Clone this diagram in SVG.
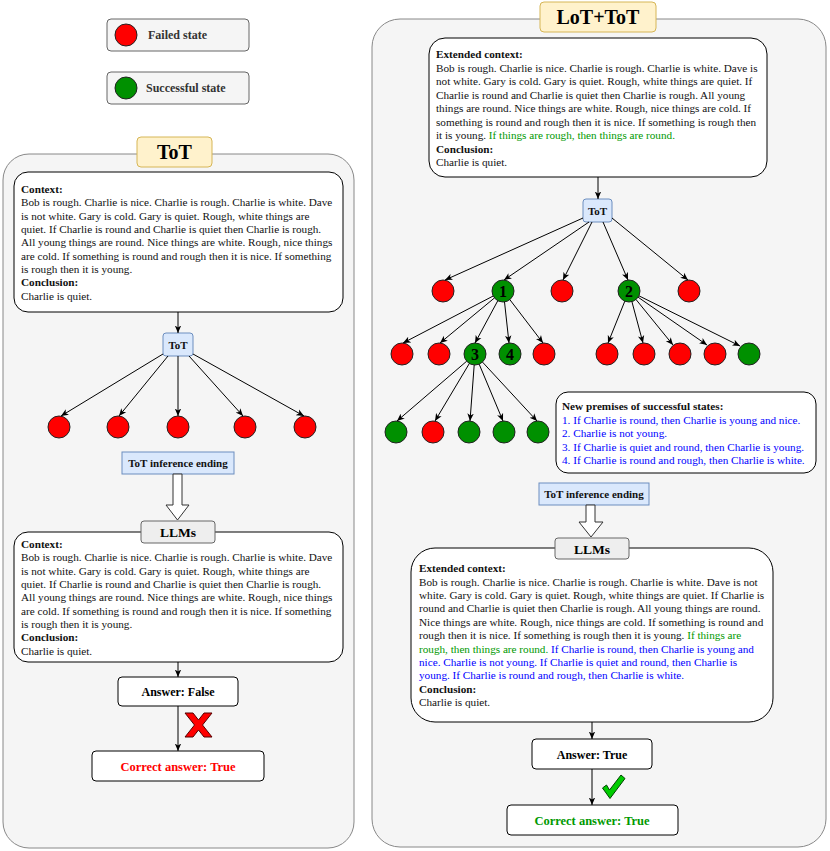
<svg xmlns="http://www.w3.org/2000/svg" width="830" height="851" viewBox="0 0 830 851">
<defs>
<marker id="arr" viewBox="0 0 8 8" refX="7.5" refY="4" markerWidth="8" markerHeight="8" markerUnits="userSpaceOnUse" orient="auto"><path d="M0,0.8 L7.5,4 L0,7.2 L2,4 z" fill="#000"/></marker>
</defs>
<style>
text{font-family:"Liberation Serif","Times New Roman",serif;fill:#111}
.b{font-weight:bold}
.body{font-size:11.2px}
.lg{font-size:12px;font-weight:bold;fill:#333}
.ttl{font-size:20px;font-weight:bold;fill:#000}
.lab{font-weight:bold;fill:#000}
.cont{fill:#f5f5f5;stroke:#888;stroke-width:1}
.ctx{fill:#fff;stroke:#000;stroke-width:1}
.title{fill:#fff2cc;stroke:#d6b656;stroke-width:1}
.bl{fill:#dae8fc;stroke:#6c8ebf;stroke-width:1}
.llm{fill:#eeeeee;stroke:#666;stroke-width:1}
.leg{fill:#f5f5f5;stroke:#666;stroke-width:1}
.rc{fill:#ff0000;stroke:#222;stroke-width:1}
.gc{fill:#009000;stroke:#222;stroke-width:1}
.edge{stroke:#000;stroke-width:1;fill:none;marker-end:url(#arr)}
.g{fill:#009900}
.u{fill:#0000ff}
.redt{fill:#ff0000}
.num{font-size:16px;font-weight:bold;fill:#000}
.hollow{fill:#fff;stroke:#333;stroke-width:1}
</style>
<rect width="830" height="851" fill="#fff"/>

<g id="legend">
<g id="legend-failed">
<rect class="leg" x="107" y="19" width="142" height="32" rx="4"/>
<circle class="rc" cx="126" cy="35" r="11"/>
<text class="lg" x="148" y="39">Failed state</text>
</g>
<g id="legend-success">
<rect class="leg" x="107" y="72" width="142" height="32" rx="4"/>
<circle class="gc" cx="126" cy="88" r="11"/>
<text class="lg" x="146" y="92">Successful state</text>
</g>
</g>

<g id="tot-panel">
<rect class="cont" x="3" y="154" width="351" height="694" rx="26"/>
<g id="tot-title">
<rect class="title" x="137" y="137" width="75" height="30" rx="4"/>
<text class="ttl" x="174.5" y="159" text-anchor="middle">ToT</text>
</g>
<g id="tot-context">
<rect class="ctx" x="14" y="172" width="329" height="140" rx="14"/>
<text class="body" x="21" y="193"><tspan class="b">Context:</tspan><tspan x="21" dy="13.33">Bob is rough. Charlie is nice. Charlie is rough. Charlie is white. Dave</tspan><tspan x="21" dy="13.33">is not white. Gary is cold. Gary is quiet. Rough, white things are</tspan><tspan x="21" dy="13.33">quiet. If Charlie is round and Charlie is quiet then Charlie is rough.</tspan><tspan x="21" dy="13.33">All young things are round. Nice things are white. Rough, nice things</tspan><tspan x="21" dy="13.33">are cold. If something is round and rough then it is nice. If something</tspan><tspan x="21" dy="13.33">is rough then it is young.</tspan><tspan x="21" dy="13.33" class="b">Conclusion:</tspan><tspan x="21" dy="13.33">Charlie is quiet.</tspan></text>
</g>
<g id="tot-node">
<rect class="bl" x="163" y="333" width="30" height="23" rx="3"/>
<text class="body b" x="178" y="349" text-anchor="middle" style="font-size:11px">ToT</text>
</g>
<g id="tot-states">
<circle class="rc" cx="59" cy="427" r="11"/>
<circle class="rc" cx="118" cy="427" r="11"/>
<circle class="rc" cx="178" cy="427" r="11"/>
<circle class="rc" cx="245" cy="427" r="11"/>
<circle class="rc" cx="305" cy="427" r="11"/>
</g>
<g id="tot-ending">
<rect class="bl" x="122" y="452" width="112" height="22"/>
<text class="body b" x="178" y="467" text-anchor="middle" style="font-size:11px">ToT inference ending</text>
</g>
<g id="tot-llms">
<rect class="ctx" x="14" y="532" width="329" height="130" rx="14"/>
<rect class="llm" x="141" y="521" width="74" height="22" rx="3"/>
<text class="lab" x="178" y="537" text-anchor="middle" font-size="13.5">LLMs</text>
<text class="body" x="21" y="548"><tspan class="b">Context:</tspan><tspan x="21" dy="13.33">Bob is rough. Charlie is nice. Charlie is rough. Charlie is white. Dave</tspan><tspan x="21" dy="13.33">is not white. Gary is cold. Gary is quiet. Rough, white things are</tspan><tspan x="21" dy="13.33">quiet. If Charlie is round and Charlie is quiet then Charlie is rough.</tspan><tspan x="21" dy="13.33">All young things are round. Nice things are white. Rough, nice things</tspan><tspan x="21" dy="13.33">are cold. If something is round and rough then it is nice. If something</tspan><tspan x="21" dy="13.33">is rough then it is young.</tspan><tspan x="21" dy="13.33" class="b">Conclusion:</tspan><tspan x="21" dy="13.33">Charlie is quiet.</tspan></text>
</g>
<g id="tot-answer">
<rect class="ctx" x="118" y="677" width="120" height="29" rx="4"/>
<text class="lab" x="178" y="696" text-anchor="middle" font-size="12">Answer: False</text>
</g>
<g id="tot-correct">
<rect class="ctx" x="92" y="751" width="172" height="30" rx="4"/>
<text class="lab redt" x="178" y="770.5" text-anchor="middle" font-size="12.5">Correct answer: True</text>
</g>
<g id="tot-cross">
<polygon points="185,713 193,713 198.5,720 204,713 212,713 202.5,725 212,737 204,737 198.5,730 193,737 185,737 194.5,725" fill="#ff0000" stroke="#550000" stroke-width="1"/>
</g>
</g>

<g id="lot-panel">
<rect class="cont" x="372" y="19" width="454" height="828" rx="28"/>
<g id="lot-title">
<rect class="title" x="540" y="2" width="116" height="30" rx="4"/>
<text class="ttl" x="598" y="24" text-anchor="middle">LoT+ToT</text>
</g>
<g id="lot-context">
<rect class="ctx" x="429" y="38" width="338" height="139" rx="16"/>
<text class="body" x="436" y="58"><tspan class="b">Extended context:</tspan><tspan x="436" dy="13.5">Bob is rough. Charlie is nice. Charlie is rough. Charlie is white. Dave is</tspan><tspan x="436" dy="13.5">not white. Gary is cold. Gary is quiet. Rough, white things are quiet. If</tspan><tspan x="436" dy="13.5">Charlie is round and Charlie is quiet then Charlie is rough. All young</tspan><tspan x="436" dy="13.5">things are round. Nice things are white. Rough, nice things are cold. If</tspan><tspan x="436" dy="13.5">something is round and rough then it is nice. If something is rough then</tspan><tspan x="436" dy="13.5">it is young. <tspan class="g">If things are rough, then things are round.</tspan></tspan><tspan x="436" dy="13.5" class="b">Conclusion:</tspan><tspan x="436" dy="13.5">Charlie is quiet.</tspan></text>
</g>
<g id="lot-tot-node">
<rect class="bl" x="583" y="199" width="29" height="23" rx="3"/>
<text class="body b" x="597.5" y="215" text-anchor="middle" style="font-size:11px">ToT</text>
</g>
<g id="lot-level1">
<circle class="rc" cx="443" cy="291" r="11"/>
<circle class="gc" cx="503" cy="291" r="11"/>
<text class="num" x="503" y="296.5" text-anchor="middle">1</text>
<circle class="rc" cx="562" cy="291" r="11"/>
<circle class="gc" cx="629" cy="291" r="11"/>
<text class="num" x="629" y="296.5" text-anchor="middle">2</text>
<circle class="rc" cx="689" cy="291" r="11"/>
</g>
<g id="lot-level2">
<circle class="rc" cx="402" cy="354" r="11"/>
<circle class="rc" cx="439" cy="354" r="11"/>
<circle class="gc" cx="475" cy="354" r="11"/>
<text class="num" x="475" y="359.5" text-anchor="middle">3</text>
<circle class="gc" cx="510" cy="354" r="11"/>
<text class="num" x="510" y="359.5" text-anchor="middle">4</text>
<circle class="rc" cx="544" cy="354" r="11"/>
<circle class="rc" cx="607" cy="354" r="11"/>
<circle class="rc" cx="644" cy="354" r="11"/>
<circle class="rc" cx="680" cy="354" r="11"/>
<circle class="rc" cx="715" cy="354" r="11"/>
<circle class="gc" cx="749" cy="354" r="11"/>
</g>
<g id="lot-level3">
<circle class="gc" cx="396" cy="432" r="11"/>
<circle class="rc" cx="433" cy="432" r="11"/>
<circle class="gc" cx="469" cy="432" r="11"/>
<circle class="gc" cx="504" cy="432" r="11"/>
<circle class="gc" cx="538" cy="432" r="11"/>
</g>
<g id="lot-premises">
<rect class="ctx" x="556" y="392" width="260" height="81" rx="12"/>
<text class="body" x="562" y="410"><tspan class="b">New premises of successful states:</tspan><tspan x="562" dy="13.5" class="u">1. If Charlie is round, then Charlie is young and nice.</tspan><tspan x="562" dy="13.5" class="u">2. Charlie is not young.</tspan><tspan x="562" dy="13.5" class="u">3. If Charlie is quiet and round, then Charlie is young.</tspan><tspan x="562" dy="13.5" class="u">4. If Charlie is round and rough, then Charlie is white.</tspan></text>
</g>
<g id="lot-ending">
<rect class="bl" x="539" y="483" width="110" height="22"/>
<text class="body b" x="594" y="498" text-anchor="middle" style="font-size:11px">ToT inference ending</text>
</g>
<g id="lot-llms">
<rect class="ctx" x="411" y="548" width="362" height="174" rx="24"/>
<rect class="llm" x="555" y="538" width="74" height="21" rx="3"/>
<text class="lab" x="592" y="553.5" text-anchor="middle" font-size="13.5">LLMs</text>
<text class="body" x="419" y="572.2"><tspan class="b">Extended context:</tspan><tspan x="419" dy="13.4">Bob is rough. Charlie is nice. Charlie is rough. Charlie is white. Dave is not</tspan><tspan x="419" dy="13.4">white. Gary is cold. Gary is quiet. Rough, white things are quiet. If Charlie is</tspan><tspan x="419" dy="13.4">round and Charlie is quiet then Charlie is rough. All young things are round.</tspan><tspan x="419" dy="13.4">Nice things are white. Rough, nice things are cold. If something is round and</tspan><tspan x="419" dy="13.4">rough then it is nice. If something is rough then it is young. <tspan class="g">If things are</tspan></tspan><tspan x="419" dy="13.4" class="g">rough, then things are round. <tspan class="u">If Charlie is round, then Charlie is young and</tspan></tspan><tspan x="419" dy="13.4" class="u">nice. Charlie is not young. If Charlie is quiet and round, then Charlie is</tspan><tspan x="419" dy="13.4" class="u">young. If Charlie is round and rough, then Charlie is white.</tspan><tspan x="419" dy="13.4" class="b">Conclusion:</tspan><tspan x="419" dy="13.4">Charlie is quiet.</tspan></text>
</g>
<g id="lot-answer">
<rect class="ctx" x="532" y="739" width="120" height="30" rx="4"/>
<text class="lab" x="592" y="758.5" text-anchor="middle" font-size="12">Answer: True</text>
</g>
<g id="lot-correct">
<rect class="ctx" x="507" y="805" width="171" height="30" rx="4"/>
<text class="lab g" x="592" y="824.5" text-anchor="middle" font-size="12.5">Correct answer: True</text>
</g>
<g id="lot-check">
<polygon points="602.5,788 606.5,785 609.5,790 621,775 625,778.5 610,798.5" fill="#00cc00" stroke="#004400" stroke-width="1"/>
</g>
</g>

<g id="connectors">
<line class="edge" x1="178" y1="312" x2="178" y2="333"/>
<line class="edge" x1="163" y1="354" x2="61" y2="416"/>
<line class="edge" x1="168" y1="356" x2="119" y2="416"/>
<line class="edge" x1="178" y1="356" x2="178" y2="416"/>
<line class="edge" x1="189" y1="356" x2="243" y2="416"/>
<line class="edge" x1="193" y1="354" x2="304" y2="416"/>
<polygon class="hollow" points="173,474 182,474 182,505 189,505 177.5,520 166,505 173,505"/>
<line class="edge" x1="178" y1="662" x2="178" y2="677"/>
<line class="edge" x1="178" y1="706" x2="178" y2="751"/>

<line class="edge" x1="598" y1="177" x2="598" y2="199"/>
<line class="edge" x1="583" y1="218" x2="445" y2="280"/>
<line class="edge" x1="589" y1="222" x2="504" y2="280"/>
<line class="edge" x1="592" y1="222" x2="563" y2="280"/>
<line class="edge" x1="603" y1="222" x2="628" y2="280"/>
<line class="edge" x1="612" y1="218" x2="688" y2="280"/>
<line class="edge" x1="493.2" y1="296" x2="403" y2="343"/>
<line class="edge" x1="494.5" y1="297.9" x2="440" y2="343"/>
<line class="edge" x1="497.8" y1="300.7" x2="475" y2="343"/>
<line class="edge" x1="504.5" y1="301.9" x2="509" y2="343"/>
<line class="edge" x1="509.8" y1="299.6" x2="543" y2="343"/>
<line class="edge" x1="624.8" y1="301.2" x2="608" y2="343"/>
<line class="edge" x1="631.9" y1="301.6" x2="643" y2="343"/>
<line class="edge" x1="636" y1="299.5" x2="673" y2="345"/>
<line class="edge" x1="638.1" y1="297.2" x2="707" y2="345"/>
<line class="edge" x1="638.9" y1="295.8" x2="740" y2="346"/>
<line class="edge" x1="466.7" y1="361.2" x2="397" y2="421"/>
<line class="edge" x1="469.4" y1="363.4" x2="435" y2="421"/>
<line class="edge" x1="474.2" y1="365" x2="470" y2="421"/>
<line class="edge" x1="479.2" y1="364.2" x2="503" y2="421"/>
<line class="edge" x1="482.5" y1="362.1" x2="537" y2="421"/>
<polygon class="hollow" points="586,505 595,505 595,522 603,522 591,537 579,522 586,522"/>
<line class="edge" x1="592" y1="722" x2="592" y2="739"/>
<line class="edge" x1="592" y1="769" x2="592" y2="805"/>
</g>
</svg>
